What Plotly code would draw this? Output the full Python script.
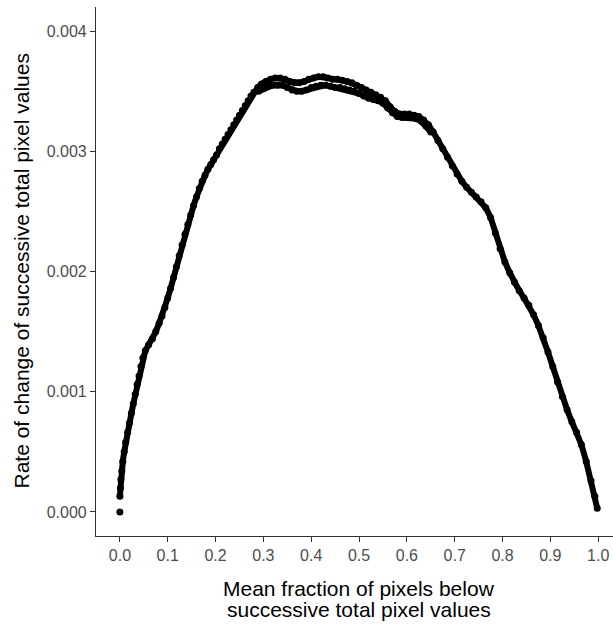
import plotly.graph_objects as go

# Main (upper) strand: mean fraction of pixels below vs rate of change
main_x = [0.000, 0.001, 0.002, 0.004, 0.006, 0.009, 0.012, 0.016, 0.020, 0.024,
          0.028, 0.032, 0.036, 0.040, 0.044, 0.048, 0.053, 0.060, 0.068, 0.075,
          0.082, 0.088, 0.094, 0.100, 0.106, 0.112, 0.118, 0.124, 0.130, 0.136,
          0.142, 0.148, 0.154, 0.160, 0.166, 0.172, 0.178, 0.184, 0.190, 0.196,
          0.202, 0.208, 0.214, 0.220, 0.226, 0.232, 0.238, 0.244, 0.250, 0.256,
          0.262, 0.268, 0.274, 0.280, 0.288, 0.296, 0.305, 0.315, 0.325, 0.335,
          0.345, 0.355, 0.365, 0.375, 0.385, 0.395, 0.405, 0.415, 0.425, 0.435,
          0.445, 0.455, 0.465, 0.475, 0.485, 0.495, 0.505, 0.515, 0.525, 0.535,
          0.545, 0.555, 0.565, 0.575, 0.585, 0.595, 0.605, 0.615, 0.625, 0.635,
          0.645, 0.655, 0.665, 0.675, 0.685, 0.695, 0.705, 0.715, 0.725, 0.735,
          0.745, 0.755, 0.765, 0.775, 0.785, 0.795, 0.805, 0.815, 0.825, 0.835,
          0.845, 0.855, 0.865, 0.875, 0.885, 0.895, 0.905, 0.915, 0.925, 0.935,
          0.945, 0.955, 0.965, 0.975, 0.985, 0.993, 0.998]
main_y = [0.13, 0.20, 0.27, 0.34, 0.42, 0.50, 0.58, 0.66, 0.74, 0.82,
          0.90, 0.98, 1.06, 1.13, 1.21, 1.28, 1.34, 1.39, 1.44, 1.50,
          1.57, 1.63, 1.70, 1.78, 1.86, 1.95, 2.04, 2.13, 2.22, 2.31,
          2.39, 2.47, 2.55, 2.62, 2.69, 2.75, 2.80, 2.85, 2.89, 2.93,
          2.97, 3.02, 3.06, 3.10, 3.14, 3.18, 3.22, 3.26, 3.30, 3.34,
          3.38, 3.42, 3.46, 3.49, 3.53, 3.56, 3.58, 3.60, 3.61, 3.61,
          3.60, 3.58, 3.57, 3.57, 3.58, 3.60, 3.61, 3.62, 3.62, 3.61,
          3.60, 3.60, 3.59, 3.58, 3.57, 3.55, 3.53, 3.51, 3.49, 3.47,
          3.45, 3.42, 3.37, 3.33, 3.31, 3.31, 3.31, 3.30, 3.29, 3.26,
          3.22, 3.16, 3.09, 3.02, 2.95, 2.88, 2.81, 2.75, 2.70, 2.66,
          2.62, 2.58, 2.53, 2.45, 2.32, 2.19, 2.08, 1.99, 1.91, 1.84,
          1.78, 1.72, 1.64, 1.55, 1.45, 1.33, 1.21, 1.08, 0.96, 0.85,
          0.75, 0.66, 0.56, 0.42, 0.26, 0.13, 0.03]

# Lower strand near the peak
lower_x = [0.290, 0.300, 0.310, 0.320, 0.330, 0.340, 0.350, 0.360, 0.370, 0.380,
           0.390, 0.400, 0.410, 0.420, 0.430, 0.440, 0.450, 0.460, 0.470, 0.480,
           0.490, 0.500, 0.510, 0.520, 0.530, 0.540, 0.550, 0.560, 0.570, 0.580,
           0.590, 0.600, 0.610, 0.620, 0.630, 0.640, 0.650]
lower_y = [3.50, 3.52, 3.54, 3.55, 3.55, 3.55, 3.53, 3.51, 3.50, 3.50,
           3.51, 3.53, 3.54, 3.55, 3.55, 3.54, 3.53, 3.53, 3.52, 3.51,
           3.50, 3.48, 3.46, 3.44, 3.43, 3.42, 3.40, 3.36, 3.32, 3.29,
           3.28, 3.28, 3.28, 3.27, 3.25, 3.21, 3.16]

# Isolated first point
origin_x = [0.0]
origin_y = [0.0]

SCALE = 1e-3
x_ticks = [0.0, 0.1, 0.2, 0.3, 0.4, 0.5, 0.6, 0.7, 0.8, 0.9, 1.0]
x_tick_labels = ["0.0", "0.1", "0.2", "0.3", "0.4", "0.5", "0.6", "0.7", "0.8", "0.9", "1.0"]
y_ticks = [0.000, 0.001, 0.002, 0.003, 0.004]
y_tick_labels = ["0.000", "0.001", "0.002", "0.003", "0.004"]

x_title_1 = "Mean fraction of pixels below"
x_title_2 = "successive total pixel values"
y_title = "Rate of change of successive total pixel values"

fig = go.Figure()
for xs, ys in [(main_x, main_y), (lower_x, lower_y)]:
    fig.add_trace(go.Scatter(
        x=xs, y=[v * SCALE for v in ys], mode="lines+markers",
        line=dict(color="black", width=6),
        marker=dict(color="black", size=7),
        showlegend=False, hoverinfo="skip", cliponaxis=False))
fig.add_trace(go.Scatter(
    x=origin_x, y=origin_y, mode="markers",
    marker=dict(color="black", size=7), showlegend=False, hoverinfo="skip"))

font_family = "Liberation Sans, Arial, sans-serif"
axis_common = dict(showline=True, linecolor="#333333", linewidth=1.2,
                   ticks="outside", ticklen=5, tickwidth=1.2, tickcolor="#333333",
                   tickfont=dict(family=font_family, size=16, color="#4D4D4D"),
                   showgrid=False, zeroline=False, automargin=False)

fig.update_layout(
    width=613, height=624,
    margin=dict(l=96, r=0, t=7, b=88, pad=0, autoexpand=False),
    plot_bgcolor="white", paper_bgcolor="white",
    xaxis=dict(range=[-0.05, 1.031], tickvals=x_ticks, ticktext=x_tick_labels, **axis_common),
    yaxis=dict(range=[-0.0002, 0.0042], tickvals=y_ticks, ticktext=y_tick_labels, **axis_common),
)

title_font = dict(family=font_family, size=21, color="black")
fig.add_annotation(text=x_title_1, x=0.5, xref="x", y=(536 - 588) / 529, yref="paper",
                   xanchor="center", yanchor="middle", showarrow=False, font=title_font)
fig.add_annotation(text=x_title_2, x=0.5, xref="x", y=(536 - 609) / 529, yref="paper",
                   xanchor="center", yanchor="middle", showarrow=False, font=title_font)
fig.add_annotation(text=y_title, x=(21 - 96) / 517, xref="paper", y=0.5, yref="paper",
                   xanchor="center", yanchor="middle", textangle=-90, showarrow=False,
                   font=title_font)

fig.write_html("out.html", config={"displayModeBar": False},
               post_script="document.body.style.margin='0';document.body.style.overflow='hidden';")
